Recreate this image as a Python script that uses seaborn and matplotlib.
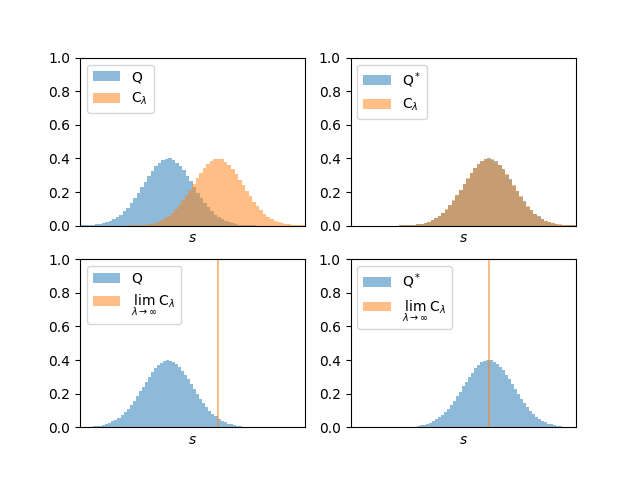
import numpy as np
import matplotlib
matplotlib.use("Agg")
import matplotlib.pyplot as plt
import seaborn as sns

# bin ranges (lo, hi) and densities, 50 bins each
q_range = (-3.5, 3.5)
q_dens = [0.001, 0.002, 0.003, 0.004, 0.007, 0.010, 0.014, 0.020, 0.027, 0.037,
          0.050, 0.066, 0.085, 0.107, 0.133, 0.163, 0.193, 0.227, 0.262, 0.295,
          0.325, 0.352, 0.372, 0.388, 0.398, 0.402, 0.390, 0.374, 0.355, 0.328,
          0.298, 0.263, 0.231, 0.197, 0.166, 0.135, 0.108, 0.087, 0.066, 0.051,
          0.038, 0.028, 0.020, 0.014, 0.009, 0.006, 0.004, 0.003, 0.002, 0.001]

c_range = (-1.6, 5.5)
c_dens = [0.001, 0.001, 0.002, 0.003, 0.005, 0.008, 0.011, 0.016, 0.023, 0.032,
          0.043, 0.057, 0.075, 0.096, 0.121, 0.150, 0.181, 0.213, 0.247, 0.282,
          0.314, 0.343, 0.367, 0.385, 0.396, 0.397, 0.394, 0.381, 0.362, 0.337,
          0.306, 0.273, 0.240, 0.206, 0.174, 0.142, 0.115, 0.091, 0.071, 0.054,
          0.040, 0.029, 0.021, 0.015, 0.010, 0.007, 0.004, 0.003, 0.002, 0.001]

qstar_range = (-1.6, 5.5)
qstar_dens = [0.001, 0.001, 0.002, 0.003, 0.005, 0.007, 0.012, 0.017, 0.022, 0.033,
              0.044, 0.059, 0.077, 0.094, 0.123, 0.148, 0.183, 0.211, 0.249, 0.280,
              0.316, 0.341, 0.369, 0.384, 0.397, 0.400, 0.392, 0.383, 0.360, 0.339,
              0.304, 0.275, 0.238, 0.208, 0.172, 0.144, 0.113, 0.092, 0.070, 0.055,
              0.039, 0.030, 0.020, 0.016, 0.010, 0.006, 0.005, 0.003, 0.002, 0.001]

q2_range = (-3.0, 3.07)
q2_dens = [0.005, 0.008, 0.010, 0.014, 0.020, 0.026, 0.035, 0.045, 0.057, 0.072,
           0.089, 0.111, 0.133, 0.158, 0.185, 0.213, 0.242, 0.271, 0.300, 0.326,
           0.350, 0.370, 0.385, 0.394, 0.399, 0.397, 0.390, 0.377, 0.359, 0.337,
           0.312, 0.285, 0.256, 0.226, 0.197, 0.169, 0.144, 0.120, 0.098, 0.080,
           0.064, 0.050, 0.039, 0.030, 0.022, 0.017, 0.012, 0.009, 0.006, 0.004]

q2star_range = (-1.0, 5.07)
q2star_dens = [0.004, 0.007, 0.011, 0.015, 0.019, 0.027, 0.034, 0.046, 0.058, 0.071,
               0.090, 0.110, 0.134, 0.157, 0.186, 0.212, 0.243, 0.270, 0.301, 0.325,
               0.351, 0.369, 0.386, 0.393, 0.398, 0.399, 0.389, 0.378, 0.358, 0.338,
               0.311, 0.286, 0.255, 0.227, 0.196, 0.170, 0.143, 0.121, 0.097, 0.081,
               0.063, 0.051, 0.038, 0.031, 0.021, 0.017, 0.011, 0.009, 0.006, 0.004]

# limiting C_lambda collapses to a spike at s = 2
lim_range = (1.96, 2.04)
lim_dens = [12.5]

xlim = (-3.53, 5.5)

lim_label = r"$\lim_{\lambda\,\rightarrow\,\infty}\,$C$_\lambda$"


def hist(ax, rng, dens, color, label):
    n = len(dens)
    edges = np.linspace(rng[0], rng[1], n + 1)
    centers = (edges[:-1] + edges[1:]) / 2
    sns.histplot(x=list(centers), weights=list(dens), bins=n, binrange=rng,
                 stat="count", ax=ax, color=color, alpha=0.5, linewidth=0,
                 label=label)


fig, axes = plt.subplots(2, 2, figsize=(6.4, 4.8), dpi=100)

panels = [
    (axes[0, 0], (q_range, q_dens, "Q"), (c_range, c_dens, r"C$_\lambda$")),
    (axes[0, 1], (qstar_range, qstar_dens, r"Q$^*$"), (c_range, c_dens, r"C$_\lambda$")),
    (axes[1, 0], (q2_range, q2_dens, "Q"), (lim_range, lim_dens, lim_label)),
    (axes[1, 1], (q2star_range, q2star_dens, r"Q$^*$"), (lim_range, lim_dens, lim_label)),
]

for ax, first, second in panels:
    hist(ax, first[0], first[1], "C0", first[2])
    hist(ax, second[0], second[1], "C1", second[2])
    ax.set_xlim(*xlim)
    ax.set_ylim(0, 1)
    ax.set_xticks([])
    ax.set_xlabel("$s$")
    ax.set_ylabel("")
    ax.legend(loc="upper left")

plt.savefig("out.png")
